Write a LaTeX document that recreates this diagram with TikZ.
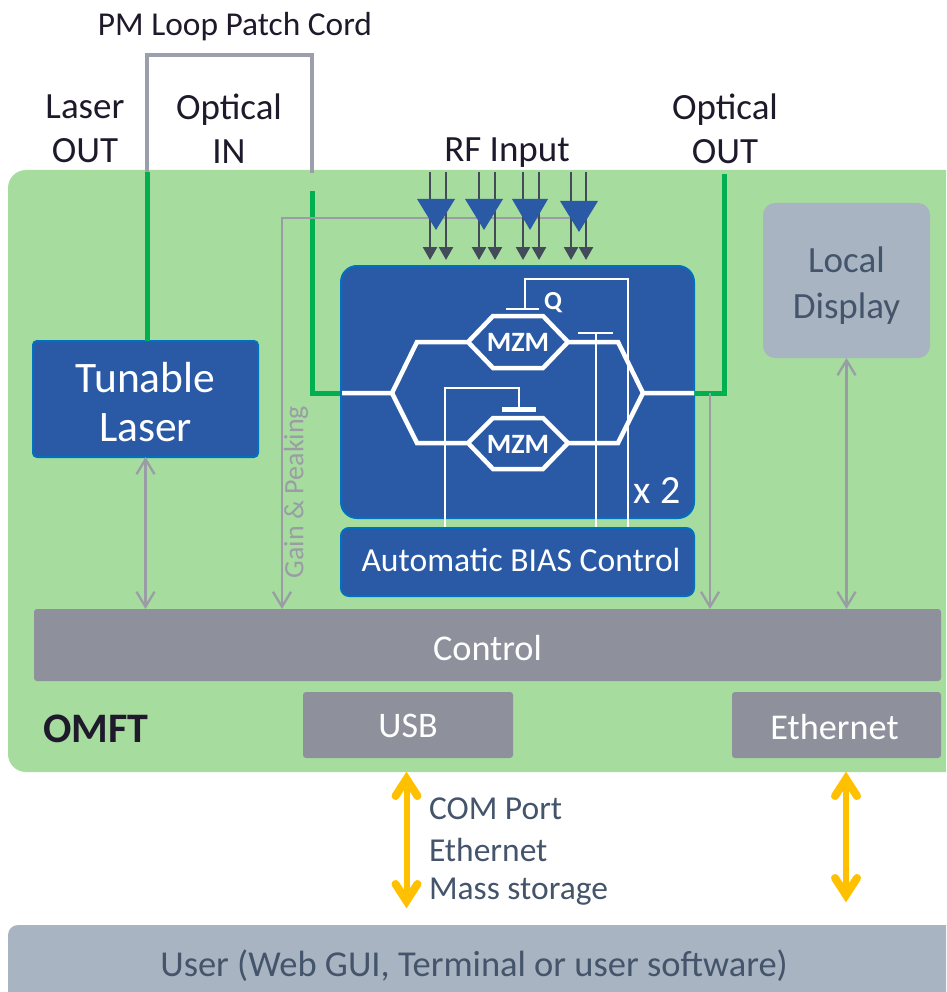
\documentclass[tikz,border=0pt]{standalone}
\usepackage{fontspec}
\setmainfont{Carlito}
\usetikzlibrary{arrows.meta}
\definecolor{panel}{HTML}{A6DC9E}
\definecolor{bluefill}{HTML}{2A5AA6}
\definecolor{blueedge}{HTML}{0070C0}
\definecolor{greybox}{HTML}{8E919C}
\definecolor{slatebox}{HTML}{A9B4C2}
\definecolor{cord}{HTML}{9A9FAB}
\definecolor{thinline}{HTML}{9A9DA5}
\definecolor{darkline}{HTML}{434A5A}
\definecolor{labeltext}{HTML}{1F1A2B}
\definecolor{slatetext}{HTML}{44546A}
\definecolor{fibre}{HTML}{00B050}
\definecolor{yarrow}{HTML}{FFC000}
\newcommand{\fs}[1]{\fontsize{#1}{#1}\selectfont}
\tikzset{
  x=1pt,y=-1pt,
  box/.style={anchor=north west,inner sep=0pt,outer sep=0pt,align=center},
  bluebox/.style={box,fill=bluefill,draw=blueedge,line width=2pt,text=white},
  greyb/.style={box,fill=greybox,text=white,rounded corners=3pt},
  lbl/.style={inner sep=0pt,outer sep=0pt,text=labeltext,align=center,font=\fs{37}},
  lowlbl/.style={inner sep=0pt,outer sep=0pt,text=slatetext,anchor=west,font=\fs{33.5}},
  fibreline/.style={draw=fibre,line width=5pt,line join=miter},
  cordline/.style={draw=cord,line width=4pt},
  ctrl/.style={draw=thinline,line width=2.3pt},
  ctrlarrow/.style={ctrl,{Straight Barb[length=15pt,width=18pt]}-{Straight Barb[length=15pt,width=18pt]}},
  ctrlone/.style={ctrl,-{Straight Barb[length=15pt,width=18pt]}},
  rfarrow/.style={draw=darkline,line width=2.5pt,-{Triangle[length=13pt,width=14pt]}},
  rftri/.style={fill=bluefill},
  guide/.style={draw=white,line width=4.5pt,line join=miter},
  bias/.style={draw=white,line width=2pt},
  yshaft/.style={draw=yarrow,line width=6pt},
  yhead/.style={draw=yarrow,line width=8pt,line cap=round,line join=miter,miter limit=10},
}
\begin{document}
\begin{tikzpicture}
\useasboundingbox (0,0) rectangle (946,992);
\path[clip] (0,0) rectangle (946,992);
% panel
\fill[panel,rounded corners=18pt] (8,170) rectangle (975,772);
% boxes
\node[bluebox,rounded corners=4pt,minimum width=225pt,minimum height=116pt,font=\fs{43.5}] (laser) at (33,341) {\rule{0pt}{36pt}Tunable\\[6pt]Laser};
\node[box,fill=slatebox,rounded corners=12pt,minimum width=167pt,minimum height=155pt,text=slatetext,font=\fs{37}] (display) at (763,203) {\rule{0pt}{36pt}Local\\[9pt]Display};
\node[bluebox,rounded corners=16pt,minimum width=353pt,minimum height=252pt] (main) at (341,266) {};
\node[bluebox,rounded corners=8pt,minimum width=353pt,minimum height=68pt,font=\fs{33.6}] (abc) at (341,528) {\hspace*{7pt}\rule[-4pt]{0pt}{4pt}Automatic BIAS Control};
\node[greyb,minimum width=907pt,minimum height=72pt,font=\fs{36.3}] (control) at (34,609) {\rule{0pt}{32pt}Control};
\node[greyb,minimum width=210pt,minimum height=66pt,font=\fs{36}] (usb) at (303,692) {\rule{0pt}{25pt}USB};
\node[greyb,minimum width=209pt,minimum height=66pt,font=\fs{36.3}] (eth) at (732,692) {\hspace*{-4pt}\rule{0pt}{30pt}Ethernet};
\fill[slatebox,rounded corners=10pt] (8,925) rectangle (975,1020);
\node[inner sep=0pt,text=slatetext,font=\fs{36.5}] (user) at (474,966) {User (Web GUI, Terminal or user software)};
% coordinates
\coordinate (cordA) at (147,172);
\coordinate (cordB) at (312,173);
\coordinate (fibIn) at (312,191);
\coordinate (fibOut) at (724,174);
\coordinate (mainL) at (340,393);
\coordinate (mainR) at (694,393);
% fibres
\draw[cordline] (cordA) -- (147,55) -- (312,55) -- (cordB);
\draw[fibreline] (cordA) -- (cordA |- laser.north);
\draw[fibreline] (fibIn) -- (fibIn |- mainL) -- (mainL);
\draw[fibreline] (mainR) -- (fibOut |- mainR) -- (fibOut);
% control lines
\draw[ctrlarrow] (laser.south) -- (laser.south |- control.north);
\draw[ctrlarrow] (display.south) -- (display.south |- control.north);
\coordinate (tap) at (710,393);
\draw[ctrlone] (tap) -- (tap |- control.north);
\coordinate (gainEnd) at (570,218);
\draw[ctrlone] (gainEnd) -- (282,218) -- (282,609);
\node[inner sep=0pt,rotate=90,text=thinline,font=\fs{28}] (gain) at (296,492) {Gain \& Peaking};
% RF
\foreach \n/\xx in {a/430,b/446,c/479,d/495,e/523,f/539,g/571,h/586}{
  \coordinate (rf\n) at (\xx,172);
  \draw[rfarrow] (rf\n) -- (\xx,260);
}
\fill[rftri] (417,199) -- (455,199) -- (436,230) -- cycle;
\fill[rftri] (465,199) -- (503,199) -- (484,230) -- cycle;
\fill[rftri] (512,199) -- (548,199) -- (530,230) -- cycle;
\fill[rftri] (560,201) -- (598,201) -- (579,232) -- cycle;
% Interferometer
\draw[guide] (342,393) -- (392,393) -- (417,342) -- (468,342) -- (493,316) -- (543,316) -- (568,342) -- (543,368) -- (493,368) -- (468,342);
\draw[guide] (392,393) -- (417,443) -- (468,443) -- (493,418) -- (543,418) -- (568,443) -- (543,469) -- (493,469) -- (468,443);
\draw[guide] (568,342) -- (618,342) -- (643,393) -- (694,393);
\draw[guide] (568,443) -- (618,443) -- (643,393);
\node[inner sep=0pt,text=white,font=\fs{28}\bfseries] (mzmA) at (518,342) {MZM};
\node[inner sep=0pt,text=white,font=\fs{28}\bfseries] (mzmB) at (518,444) {MZM};
\node[inner sep=0pt,text=white,font=\fs{26}\bfseries] (q) at (553,303) {Q};
\node[inner sep=0pt,text=white,font=\fs{40}] (x2) at (657,491) {x 2};
% bias
\coordinate (b1) at (628,527);
\coordinate (b2) at (596,527);
\coordinate (b3) at (445,527);
\draw[bias] (506,309) -- (539,309);
\draw[bias] (525,309) -- (525,279) -- (628,279) -- (b1);
\draw[bias] (578,333) -- (613,333);
\draw[bias] (596,333) -- (b2);
\draw[draw=white,line width=5pt] (502,409) -- (536,409);
\draw[bias] (519,409) -- (519,388) -- (445,388) -- (b3);
% top labels
\node[lbl,font=\fs{33.4}] (patch) at (235,27) {PM Loop Patch Cord};
\node[lbl] (lout) at (85,129) {Laser\\[7pt]OUT};
\node[lbl] (oin) at (229,129) {Optical\\[7pt]IN};
\node[lbl] (rf) at (507,153) {RF Input};
\node[lbl] (oout) at (725,129) {Optical\\[7pt]OUT};
% OMFT
\node[inner sep=0pt,text=labeltext,font=\fs{42}\bfseries] (omft) at (96,729) {OMFT};
% bottom
\coordinate (y1a) at (406.5,779);
\coordinate (y1b) at (406.5,901);
\coordinate (y2a) at (846,779);
\coordinate (y2b) at (846,895);
\foreach \ta/\tb in {y1a/y1b,y2a/y2b}{
  \draw[yshaft] (\ta) -- (\tb);
  \draw[yhead] ([shift={(-11,17)}]\ta) -- (\ta) -- ([shift={(11,17)}]\ta);
  \draw[yhead] ([shift={(-11,-17)}]\tb) -- (\tb) -- ([shift={(11,-17)}]\tb);
}
\node[lowlbl] (com) at (429,809) {COM Port};
\node[lowlbl] (ethl) at (429,850) {Ethernet};
\node[lowlbl] (mass) at (429,892) {Mass storage};
\end{tikzpicture}
\end{document}
